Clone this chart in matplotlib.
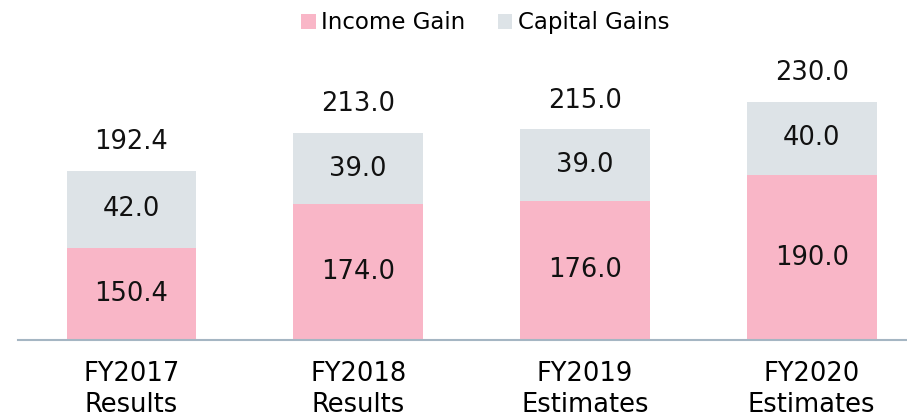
import matplotlib
matplotlib.use("Agg")
import matplotlib.pyplot as plt
import numpy as np

categories = ["FY2017\nResults", "FY2018\nResults", "FY2019\nEstimates", "FY2020\nEstimates"]
income_gain = [150.4, 174.0, 176.0, 190.0]
capital_gains = [42.0, 39.0, 39.0, 40.0]
totals = [192.4, 213.0, 215.0, 230.0]

pink = "#F9B6C7"
grey = "#DDE3E7"

plt.rcParams['font.family'] = ['DejaVu Sans']

fig = plt.figure(figsize=(9.07, 4.18), dpi=100)
ax = fig.add_axes([18 / 907, 1 - 340 / 418, 889 / 907, 340 / 418])

x = np.arange(len(categories))
w = 0.572
b1 = ax.bar(x, np.array(income_gain) - 100, width=w, bottom=100, color=pink, label="Income Gain")
b2 = ax.bar(x, capital_gains, width=w, bottom=income_gain, color=grey, label="Capital Gains")

for i in range(len(x)):
    ax.text(x[i], (100 + income_gain[i]) / 2, f"{income_gain[i]:.1f}",
            ha='center', va='center', fontsize=18.5, color='#111111')
    ax.text(x[i], income_gain[i] + capital_gains[i] / 2, f"{capital_gains[i]:.1f}",
            ha='center', va='center', fontsize=18.5, color='#111111')
    ax.annotate(f"{totals[i]:.1f}", (x[i], income_gain[i] + capital_gains[i]),
                xytext=(0, 15.6), textcoords='offset points',
                ha='center', va='baseline', fontsize=18.5, color='#111111')

ax.set_xlim(-0.5, 3.42)
ax.set_ylim(100, 100 + 340 / 1.833)
ax.set_yticks([])
ax.set_xticks(x)
ax.set_xticklabels(categories, fontsize=18.5, linespacing=1.28)
ax.tick_params(axis='x', length=0, pad=15)
for s in ['top', 'left', 'right']:
    ax.spines[s].set_visible(False)
ax.spines['bottom'].set_color('#A5B6C3')
ax.spines['bottom'].set_linewidth(1.5)

fig.legend(handles=[b1, b2], loc='center', bbox_to_anchor=(0.535, 0.945), ncol=2,
           frameon=False, fontsize=16.5, handlelength=0.63, handleheight=0.63,
           handletextpad=0.25, columnspacing=1.4, borderaxespad=0)

fig.savefig("out.png", dpi=100)
